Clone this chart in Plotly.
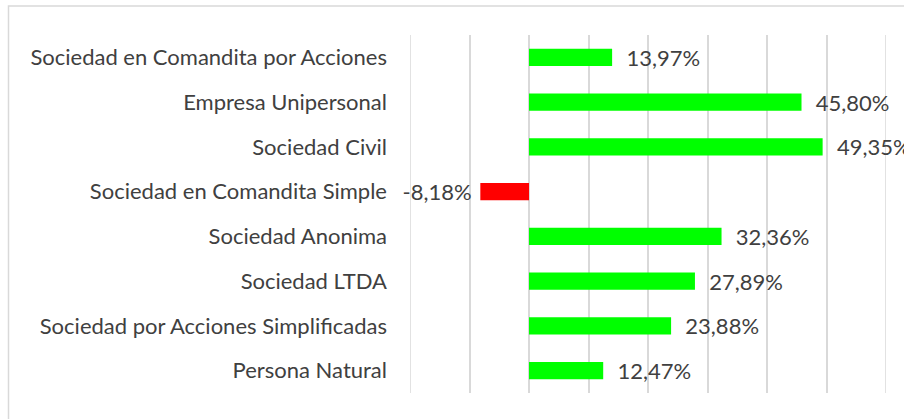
import plotly.graph_objects as go

categories = [
    "Sociedad en Comandita por Acciones",
    "Empresa Unipersonal",
    "Sociedad Civil",
    "Sociedad en Comandita Simple",
    "Sociedad Anonima",
    "Sociedad LTDA",
    "Sociedad por Acciones Simplificadas",
    "Persona Natural",
]
values = [13.97, 45.80, 49.35, -8.18, 32.36, 27.89, 23.88, 12.47]
axis_min, axis_max = -20, 60

NB = "\u00a0"
labels = []
for v in values:
    s = f"{v:.2f}".replace(".", ",") + "%"
    labels.append(s + NB if v < 0 else NB * 2 + s)
colors = ["#FF0000" if v < 0 else "#00FF00" for v in values]

W, H = 904, 419
ml, mr, mt, mb = 410, 18, 34.5, 25.5
pw, ph = W - ml - mr, H - mt - mb
FONT = "Lato"
FS = 22
GRID = "#D9D9D9"

fig = go.Figure(go.Bar(
    y=categories, x=values, orientation="h",
    marker=dict(color=colors, line=dict(width=0)),
    text=labels, textposition="outside", cliponaxis=False,
    constraintext="none",
    textfont=dict(family=FONT, size=FS, color="#404040"),
    outsidetextfont=dict(family=FONT, size=FS, color="#404040"),
    width=0.38,
))

# outer chart border (partly outside visible area)
bx0 = (8.5 - ml) / pw
by1 = 1 + (mt - 5.5) / ph
fig.add_shape(type="rect", xref="paper", yref="paper",
              x0=bx0, x1=2, y0=-2, y1=by1,
              line=dict(color=GRID, width=1.5), layer="below")
# edge gridlines (plotly omits gridlines at the plot edges)
for xv in (axis_min, axis_max):
    fig.add_shape(type="line", xref="x", yref="paper", x0=xv, x1=xv, y0=0, y1=1,
                  line=dict(color=GRID, width=1.5), layer="below")

fig.update_layout(
    width=W, height=H,
    margin=dict(l=ml, r=mr, t=mt, b=mb, autoexpand=False),
    paper_bgcolor="white", plot_bgcolor="white",
    showlegend=False,
    font=dict(family=FONT, color="#404040"),
    xaxis=dict(range=[axis_min, axis_max], dtick=10, showticklabels=False,
               showgrid=True, gridcolor=GRID, gridwidth=1.5,
               zeroline=False, fixedrange=True, automargin=False),
    yaxis=dict(autorange="reversed", tickfont=dict(family=FONT, size=FS, color="#404040"),
               ticklabelstandoff=22, showgrid=False, zeroline=False, automargin=False),
)

fig.write_html("out.html", config={"displayModeBar": False},
               post_script="document.body.style.margin='0';")
